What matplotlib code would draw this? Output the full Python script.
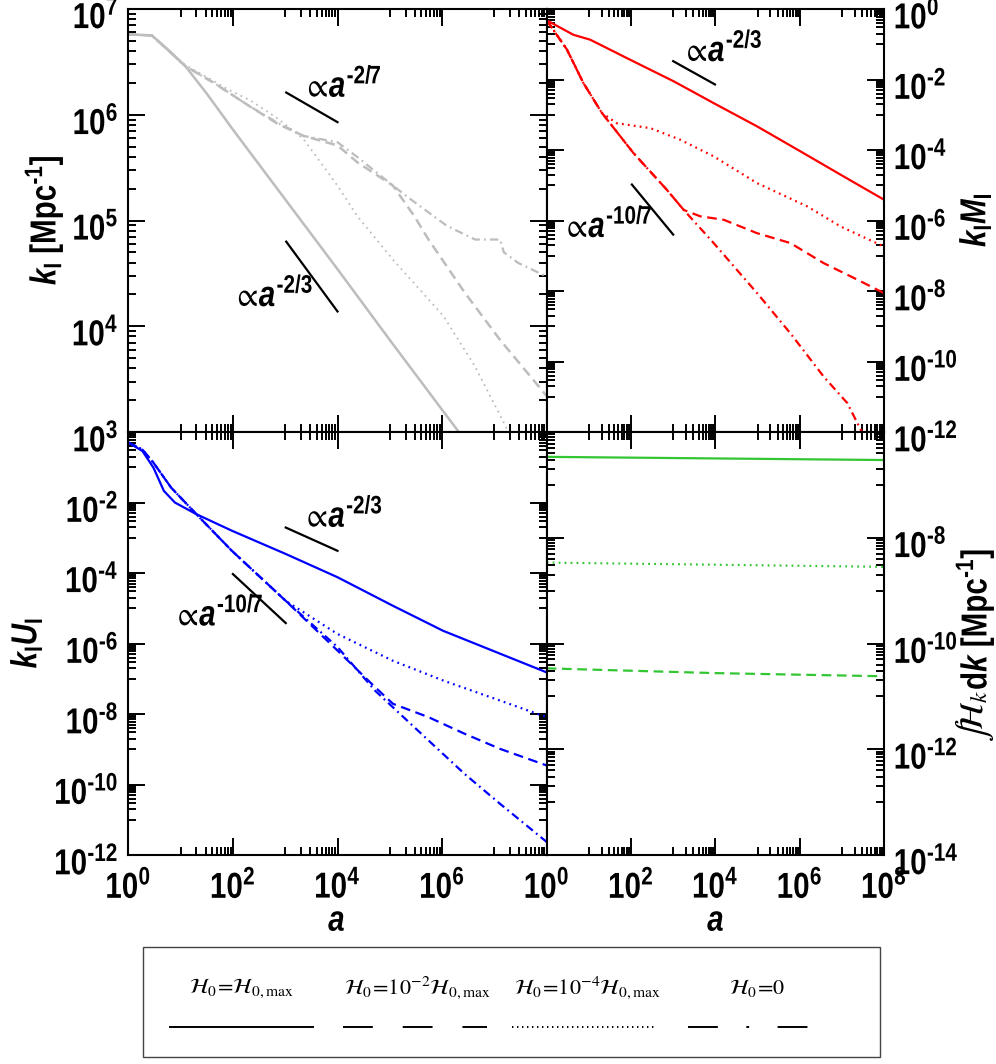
import numpy as np
import matplotlib
matplotlib.use("Agg")
import matplotlib.pyplot as plt
from matplotlib import font_manager as fm
from matplotlib.ticker import FixedLocator, FuncFormatter, NullFormatter
from matplotlib.patches import Rectangle
from matplotlib.lines import Line2D
from matplotlib.patheffects import AbstractPathEffect
from matplotlib.transforms import Affine2D

# ---------------------------------------------------------------- data (log10 values)
# top-left: integral scale k_I (grey)
la_kI_solid = [0, 0.45, 0.75, 1.09, 1.5, 2.0, 3.0, 4.0, 5.0, 6.0, 6.32]
lk_kI_solid = [6.76, 6.75, 6.62, 6.46, 6.2, 5.86, 5.2, 4.54, 3.87, 3.21, 3.0]
la_kI_dash = [0, 0.45, 1.09, 1.64, 2.32, 2.87, 3.35, 4.0, 4.38, 5.06, 5.47, 5.74, 6.43, 7.11, 8.0]
lk_kI_dash = [6.76, 6.75, 6.46, 6.3, 6.08, 5.91, 5.8, 5.71, 5.55, 5.33, 5.04, 4.82, 4.32, 3.87, 3.34]
la_kI_dot = [0, 0.45, 1.09, 1.98, 2.32, 2.87, 3.35, 4.0, 4.38, 5.06, 6.02, 6.63, 7.25]
lk_kI_dot = [6.76, 6.75, 6.47, 6.22, 6.14, 5.96, 5.77, 5.33, 5.04, 4.63, 4.1, 3.62, 3.02]
la_kI_dd = [0, 0.45, 1.09, 1.64, 2.32, 2.87, 3.35, 4.0, 4.38, 5.06, 5.4, 6.09, 6.63, 7.11, 7.18, 7.45, 8.0]
lk_kI_dd = [6.76, 6.75, 6.46, 6.3, 6.08, 5.92, 5.8, 5.74, 5.6, 5.33, 5.2, 4.95, 4.82, 4.82, 4.7, 4.6, 4.47]

# top-right: k_I M_I (red)
la_M_solid = [0, 0.63, 1.03, 1.98, 3.01, 3.96, 4.99, 6.02, 6.97, 8.0]
lv_M_solid = [-0.32, -0.73, -0.87, -1.44, -2.05, -2.67, -3.33, -4.04, -4.7, -5.41]
la_M_dot = [0, 0.48, 0.87, 1.31, 1.66, 2.46, 3.17, 3.96, 4.99, 6.18, 6.97, 8.0]
lv_M_dot = [-0.32, -1.15, -2.1, -2.95, -3.24, -3.38, -3.71, -4.18, -4.94, -5.6, -6.17, -6.74]
la_M_dash = [0, 0.48, 0.87, 1.31, 2.06, 2.85, 3.25, 3.64, 4.2, 4.99, 5.78, 6.57, 7.37, 8.0]
lv_M_dash = [-0.32, -1.15, -2.1, -2.95, -4.09, -5.13, -5.7, -5.88, -5.98, -6.36, -6.64, -7.21, -7.68, -8.06]
la_M_dd = [0, 0.48, 0.87, 1.31, 2.06, 2.85, 3.25, 3.96, 4.99, 5.78, 6.57, 7.13, 7.45, 7.56]
lv_M_dd = [-0.32, -1.15, -2.1, -2.95, -4.09, -5.13, -5.7, -6.64, -8.06, -9.2, -10.43, -11.18, -11.94, -12.1]

# bottom-left: k_I U_I (blue)
la_U_solid = [0, 0.27, 0.48, 0.68, 0.89, 1.3, 1.98, 3.01, 4.0, 5.06, 6.02, 8.0]
lv_U_solid = [-0.30, -0.54, -1.01, -1.67, -2.0, -2.33, -2.8, -3.46, -4.12, -4.93, -5.64, -6.82]
la_U_early = [0, 0.27, 0.48, 0.82, 1.3, 1.98, 3.01]
lv_U_early = [-0.30, -0.5, -0.87, -1.58, -2.33, -3.37, -4.79]
la_U_dot = [4.0, 5.06, 6.02, 7.11, 8.0]
lv_U_dot = [-5.73, -6.49, -7.05, -7.62, -8.09]
la_U_dash = [4.0, 4.72, 5.06, 5.74, 6.43, 7.11, 8.0]
lv_U_dash = [-6.2, -7.24, -7.71, -8.09, -8.56, -8.99, -9.46]
la_U_dd = [4.0, 4.72, 5.06, 5.74, 6.43, 7.11, 8.0]
lv_U_dd = [-6.1, -7.34, -7.81, -8.75, -9.7, -10.55, -11.63]

# bottom-right: integrated helicity (green)
la_H = [0, 4.0, 8.0]
lv_H_solid = [-6.47, -6.50, -6.53]
lv_H_dot = [-8.47, -8.51, -8.55]
lv_H_dash = [-10.47, -10.56, -10.62]

# power-law guides: (log a0, log a1, log v0, log v1), exponent, label anchor (log a, log v)
guides_tl = [((3.02, 4.0, 6.21, 5.93), "-2/7", (3.33, 6.17)),
             ((3.02, 4.0, 4.80, 4.14), "-2/3", (1.99, 4.19))]
guides_tr = [((3.0, 3.99, -1.48, -2.14), "-2/3", (3.20, -1.48)),
             ((2.02, 3.0, -4.98, -6.40), "-10/7", (0.36, -6.47))]
guides_bl = [((3.01, 4.0, -2.71, -3.37), "-2/3", (3.32, -2.69)),
             ((2.0, 3.01, -4.03, -5.42), "-10/7", (0.85, -5.49))]

legend_labels = [r"$\mathcal{H}_0\!=\!\mathcal{H}_{0,\mathrm{max}}$",
                 r"$\mathcal{H}_0\!=\!10^{-2}\mathcal{H}_{0,\mathrm{max}}$",
                 r"$\mathcal{H}_0\!=\!10^{-4}\mathcal{H}_{0,\mathrm{max}}$",
                 r"$\mathcal{H}_0\!=\!0$"]

# ---------------------------------------------------------------- fonts
names = {f.name for f in fm.fontManager.ttflist}
SANS = "Liberation Sans Narrow" if "Liberation Sans Narrow" in names else "Liberation Sans"
STRETCH = 1.0 if SANS.endswith("Narrow") else 1.22   # vertical stretch of the bold sans text
FS = 26 / STRETCH                                    # layout size (sets the text width)
HY = "\u2010"  # short hyphen used as the minus sign

plt.rcParams.update({
    "font.family": SANS,
    "font.weight": "normal",
    "mathtext.fontset": "custom",
    "mathtext.rm": SANS + ":bold",
    "mathtext.bf": SANS + ":bold",
    "mathtext.sf": SANS + ":bold",
    "mathtext.it": SANS + ":italic:bold",
    "mathtext.fallback": "stix",
    "axes.linewidth": 1.5,
    "lines.scale_dashes": False,
})


class Tall(AbstractPathEffect):
    """Stretch glyph outlines vertically (about the baseline or their centre)
    and optionally drop the text by a few pixels."""

    def __init__(self, sy, anchor="center", drop=0.0):
        super().__init__()
        self.sy, self.anchor, self.drop = sy, anchor, drop

    def draw_path(self, renderer, gc, tpath, affine, rgbFace=None):
        ext = tpath.get_extents()
        y0 = 0.0 if self.anchor == "baseline" else 0.5 * (ext.y0 + ext.y1)
        pre = Affine2D().translate(0, -y0).scale(1, self.sy).translate(0, y0)
        post = Affine2D().translate(0, -self.drop)
        renderer.draw_path(gc, tpath, pre + affine + post, rgbFace)


def tall(anchor="center", drop=0.0):
    return [Tall(STRETCH, anchor, drop)]


GREY = "#bdbdbd"
RED = "#ff0000"
BLUE = "#0000ff"
GREEN = "#33c633"
DASH = (0, (7, 4))
DOT = (0, (1.3, 3.0))
DDOT = (0, (6, 3, 1.3, 3))

W, H = 996, 1064
fig = plt.figure(figsize=(W / 100, H / 100), dpi=100)


def fx(px):
    return px / W


def fy(py):
    return 1 - py / H


X0, XM, X1 = 128.3, 546.7, 884.0
Y0, YM, Y1 = 9.0, 432.0, 855.0
ax_tl = fig.add_axes([fx(X0), fy(YM), (XM - X0) / W, (YM - Y0) / H])
ax_tr = fig.add_axes([fx(XM), fy(YM), (X1 - XM) / W, (YM - Y0) / H])
ax_bl = fig.add_axes([fx(X0), fy(Y1), (XM - X0) / W, (Y1 - YM) / H])
ax_br = fig.add_axes([fx(XM), fy(Y1), (X1 - XM) / W, (Y1 - YM) / H])


def exp_formatter(hidden):
    def f(v, pos):
        e = int(round(np.log10(v)))
        if e in hidden:
            return ""
        return r"$10^{%s}$" % str(e).replace("-", HY)
    return FuncFormatter(f)


def style(ax, ylo, yhi, ystep, side, xlabels, hide_x=(), hide_y=()):
    ax.set_xscale("log")
    ax.set_yscale("log")
    ax.set_xlim(1, 1e8)
    ax.set_ylim(10.0 ** ylo, 10.0 ** yhi)
    # x: majors every two decades, minors in the decade just below each major
    ax.xaxis.set_major_locator(FixedLocator([10.0 ** e for e in range(0, 9, 2)]))
    ax.xaxis.set_minor_locator(FixedLocator(
        [j * 10.0 ** e for e in range(1, 8, 2) for j in range(1, 10)]))
    if ystep == 1:
        ymaj = [10.0 ** e for e in range(ylo, yhi + 1)]
        ymin = [j * 10.0 ** e for e in range(ylo, yhi) for j in range(2, 10)]
    else:
        ymaj = [10.0 ** e for e in range(ylo, yhi + 1, 2)]
        ymin = [j * 10.0 ** (e - 1) for e in range(ylo + 2, yhi + 1, 2) for j in range(1, 10)]
    ax.yaxis.set_major_locator(FixedLocator(ymaj))
    ax.yaxis.set_minor_locator(FixedLocator(ymin))
    ax.xaxis.set_major_formatter(exp_formatter(hide_x))
    ax.yaxis.set_major_formatter(exp_formatter(hide_y))
    ax.xaxis.set_minor_formatter(NullFormatter())
    ax.yaxis.set_minor_formatter(NullFormatter())
    ax.tick_params(which="both", direction="in", top=True, right=True, width=1.4,
                   labelsize=FS, labelleft=(side == "left"), labelright=(side == "right"),
                   labelbottom=xlabels, labeltop=False)
    ax.tick_params(which="major", length=12)
    ax.tick_params(which="minor", length=6)
    ax.tick_params(axis="y", pad=7)
    ax.tick_params(axis="x", pad=10)
    for lab in ax.get_xticklabels():
        lab.set_path_effects(tall("center", 3))
    for lab in ax.get_yticklabels():
        lab.set_path_effects(tall("center", 5))
    # the label at the very top sits against the figure edge: lower its box, keep its glyphs
    for tick in ax.yaxis.get_major_ticks():
        if np.isclose(np.log10(tick.get_loc()), yhi):
            for lab in (tick.label1, tick.label2):
                lab.set_transform(lab.get_transform() + Affine2D().translate(0, -9))
                lab.set_path_effects(tall("center", -4))


style(ax_tl, 3, 7, 1, "left", False)
style(ax_tr, -12, 0, 2, "right", False)
style(ax_bl, -12, 0, 2, "left", True, hide_x=(8,), hide_y=(0,))
style(ax_br, -14, -6, 2, "right", True, hide_y=(-6,))


def curve(ax, la, lv, color, ls, lw=1.6):
    ax.plot(10.0 ** np.asarray(la), 10.0 ** np.asarray(lv), color=color, ls=ls, lw=lw)


# grey curves
curve(ax_tl, la_kI_solid, lk_kI_solid, GREY, "-", 1.8)
curve(ax_tl, la_kI_dash, lk_kI_dash, GREY, DASH, 1.8)
curve(ax_tl, la_kI_dot, lk_kI_dot, GREY, DOT, 1.3)
curve(ax_tl, la_kI_dd, lk_kI_dd, GREY, DDOT, 1.6)

# red curves
curve(ax_tr, la_M_solid, lv_M_solid, RED, "-")
curve(ax_tr, la_M_dot, lv_M_dot, RED, DOT)
curve(ax_tr, la_M_dash, lv_M_dash, RED, DASH)
curve(ax_tr, la_M_dd, lv_M_dd, RED, DDOT)

# blue curves (the three non-maximal runs share the early decay)
curve(ax_bl, la_U_solid, lv_U_solid, BLUE, "-")
curve(ax_bl, la_U_early + la_U_dot, lv_U_early + lv_U_dot, BLUE, DOT)
curve(ax_bl, la_U_early + la_U_dash, lv_U_early + lv_U_dash, BLUE, DASH)
curve(ax_bl, la_U_early + la_U_dd, lv_U_early + lv_U_dd, BLUE, DDOT)

# green curves
curve(ax_br, la_H, lv_H_solid, GREEN, "-")
curve(ax_br, la_H, lv_H_dot, GREEN, DOT)
curve(ax_br, la_H, lv_H_dash, GREEN, DASH)


def guides(ax, items):
    for (a0, a1, v0, v1), expo, (ta, tv) in items:
        ax.plot([10.0 ** a0, 10.0 ** a1], [10.0 ** v0, 10.0 ** v1], color="black", lw=1.6)
        ax.text(10.0 ** ta, 10.0 ** tv, r"$\propto\!a^{%s}$" % expo.replace("-", HY),
                fontsize=FS, ha="left", va="baseline", path_effects=tall("baseline"))


guides(ax_tl, guides_tl)
guides(ax_tr, guides_tr)
guides(ax_bl, guides_bl)

# axis titles
title_kw = dict(rotation=90, fontsize=FS, fontweight="bold", ha="center", va="center",
                path_effects=tall("center"))
fig.text(fx(44), fy(220), r"$k_{\rm I}$ [Mpc$^{%s1}$]" % HY, **title_kw)
fig.text(fx(26), fy(643), r"$k_{\rm I}U_{\rm I}$", **title_kw)
fig.text(fx(975), fy(220), r"$k_{\rm I}M_{\rm I}$", **title_kw)
# helicity integral label: the integral and calligraphic H use STIX, the rest the sans font
fig.text(fx(974), fy(690), r"$\int\!\mathcal{H}_k$", rotation=90, fontsize=24,
         ha="center", va="top", math_fontfamily="stix")
fig.text(fx(975), fy(690), r"d$k$ [Mpc$^{%s1}$]" % HY, rotation=90, fontsize=FS,
         fontweight="bold", ha="center", va="bottom", path_effects=tall("center"))
fig.text(fx(337), fy(921), r"$a$", fontsize=FS, ha="center", va="center",
         path_effects=tall("center"))
fig.text(fx(716), fy(921), r"$a$", fontsize=FS, ha="center", va="center",
         path_effects=tall("center"))

# legend box
fig.patches.append(Rectangle((fx(143), fy(1057)), (880 - 143) / W, (1057 - 947) / H,
                             transform=fig.transFigure, fill=False, ec="#444444", lw=1.0))
leg_cx = [242, 418, 588, 757]
leg_styles = [dict(ls="-"), dict(ls=(0, (21.5, 21.5))),
              dict(ls=(0, (1.0, 2.6))), dict(ls=(0, (21.5, 20.5, 2, 20.5)))]
leg_x = [(170, 313), (343, 487), (512, 655), (688, 808)]
for cx, lab, st, (xa, xb) in zip(leg_cx, legend_labels, leg_styles, leg_x):
    fig.text(fx(cx), fy(988), lab, fontsize=16, ha="center", va="center",
             math_fontfamily="stix")
    fig.lines.append(Line2D([fx(xa), fx(xb)], [fy(1027), fy(1027)], transform=fig.transFigure,
                            color="black", lw=1.4, **st))

fig.savefig("out.png", dpi=100)
